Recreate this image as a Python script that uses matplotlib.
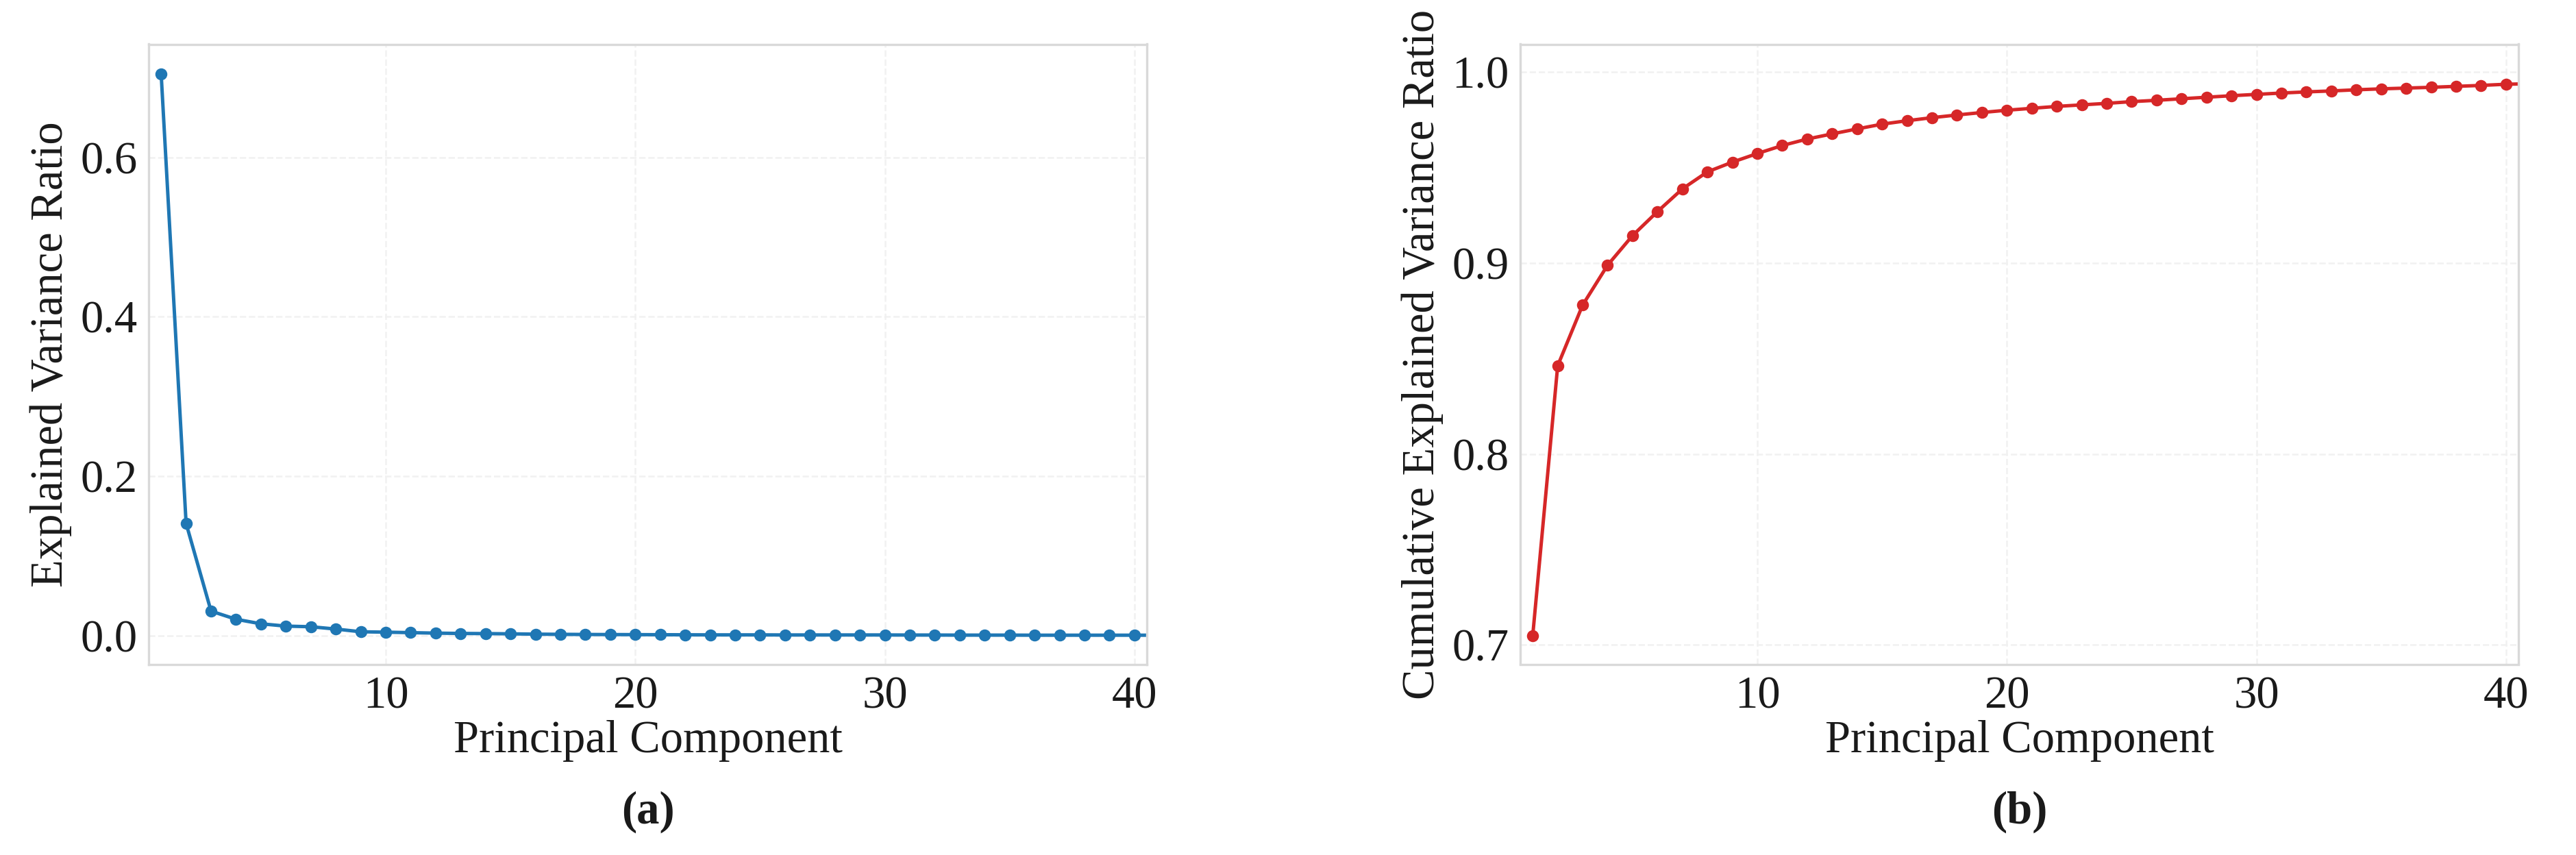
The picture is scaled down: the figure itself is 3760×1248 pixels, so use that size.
import numpy as np
import matplotlib
matplotlib.use("Agg")
import matplotlib.pyplot as plt

plt.rcParams['font.family'] = ['Liberation Serif', 'DejaVu Serif']

# ---- data ----
components = list(range(1, 42))
explained = [0.705, 0.1407, 0.0306, 0.0204, 0.0147, 0.0118, 0.0110, 0.0081, 0.0047, 0.0042,
             0.0036, 0.0030, 0.0026, 0.0024, 0.0021, 0.0017, 0.0015, 0.0013, 0.0012, 0.0011,
             0.0010, 0.0009, 0.0008, 0.0008, 0.0008, 0.0007, 0.0007, 0.0007, 0.0007, 0.0007,
             0.0006, 0.0006, 0.0005, 0.0005, 0.0005, 0.0004, 0.0004, 0.0004, 0.0004, 0.0004,
             0.0004]
cumulative = [0.7048, 0.8462, 0.8780, 0.8989, 0.9144, 0.9270, 0.9389, 0.9478, 0.9529, 0.9574,
              0.9616, 0.9650, 0.9677, 0.9703, 0.9728, 0.9746, 0.9762, 0.9776, 0.9789, 0.9801,
              0.9811, 0.9821, 0.9829, 0.9837, 0.9846, 0.9853, 0.9861, 0.9869, 0.9877, 0.9884,
              0.9891, 0.9897, 0.9902, 0.9908, 0.9913, 0.9917, 0.9921, 0.9926, 0.9931, 0.9937,
              0.9940]
xticks = [10, 20, 30, 40]
yticks_a = [0.0, 0.2, 0.4, 0.6]
yticks_b = [0.7, 0.8, 0.9, 1.0]

W, H = 3760, 1248
DPI = 300
fig = plt.figure(figsize=(W / DPI, H / DPI), dpi=DPI)
fig.patch.set_facecolor('white')

FS = 16
TXT = '#1a1a1a'
SPINE = '#d9d9d9'
GRID = '#f1f1f1'

def px_axes(x0, x1, y0, y1):
    return fig.add_axes([x0 / W, 1 - y1 / H, (x1 - x0) / W, (y1 - y0) / H])

def style(ax, yticks, fmt):
    ax.set_facecolor('white')
    for s in ax.spines.values():
        s.set_color(SPINE)
        s.set_linewidth(0.8)
    ax.set_xlim(0.5, 40.5)
    ax.set_xticks(xticks)
    ax.set_yticks(yticks)
    ax.set_yticklabels([fmt.format(v) for v in yticks])
    ax.tick_params(axis='both', which='both', length=0, pad=4, labelsize=FS, colors=TXT)
    ax.grid(True, color=GRID, linestyle='--', linewidth=0.6)
    ax.set_axisbelow(True)

# (a)
ax1 = px_axes(217, 1674, 64.5, 969.5)
ax1.plot(components, explained, color='#1f77b4', linewidth=1.2, marker='o', markersize=3.2)
style(ax1, yticks_a, '{:.1f}')
ax1.set_ylim(-0.036, 0.742)
ax1.set_xlabel('Principal Component', fontsize=FS, color=TXT, labelpad=1)
ax1.set_ylabel('Explained Variance Ratio', fontsize=FS, color=TXT, labelpad=3)

# (b)
ax2 = px_axes(2219, 3676, 64.5, 969.5)
ax2.plot(components, cumulative, color='#d62728', linewidth=1.2, marker='o', markersize=3.2)
style(ax2, yticks_b, '{:.1f}')
ax2.set_ylim(0.6898, 1.0147)
ax2.set_xlabel('Principal Component', fontsize=FS, color=TXT, labelpad=1)
ax2.set_ylabel('Cumulative Explained Variance Ratio', fontsize=FS, color=TXT, labelpad=3)

fig.text((217 + 1674) / 2 / W, 1 - 1202 / H, '(a)', ha='center', va='baseline',
         fontsize=FS, fontweight='bold', color=TXT)
fig.text((2219 + 3676) / 2 / W, 1 - 1202 / H, '(b)', ha='center', va='baseline',
         fontsize=FS, fontweight='bold', color=TXT)

fig.savefig('out.png', dpi=DPI, facecolor='white')
